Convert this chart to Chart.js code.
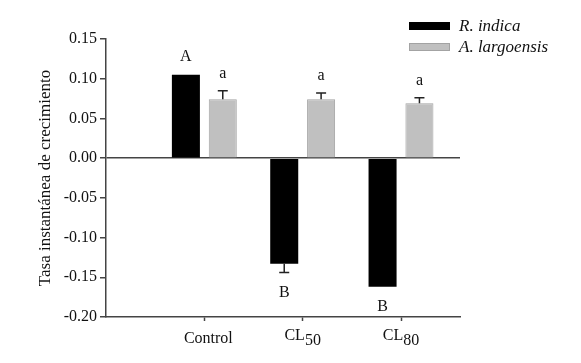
<!DOCTYPE html>
<html>
<head>
<meta charset="utf-8">
<script src="https://cdn.jsdelivr.net/npm/chart.js@4"></script>
<style>
  body { margin: 0; background: #fff; }
</style>
</head>
<body>
<canvas id="myChart" width="581" height="363"></canvas>
<script>
"use strict";

// data
let categories = ["Control", "CL50", "CL80"];
let catPositions = [0, 1, 2];
let rIndica = [0.105, -0.133, -0.162];
let rIndicaErr = [0.001, 0.011, 0.0];
let rIndicaLetters = ["A", "B", "B"];
let aLargoensis = [0.074, 0.074, 0.069];
let aLargoensisErr = [0.011, 0.008, 0.007];
let aLargoensisLetters = ["a", "a", "a"];
let yTicks = [-0.20, -0.15, -0.10, -0.05, 0.00, 0.05, 0.10, 0.15];

let serif = "'Liberation Serif', 'Times New Roman', serif";
let axisColor = "#444";

// error bars + letters over each bar
const extrasPlugin = {
    id: "extras",
    afterDatasetsDraw(chart) {
        let ctx = chart.ctx;
        let y = chart.scales.y;
        let errs = [rIndicaErr, aLargoensisErr];
        let letters = [rIndicaLetters, aLargoensisLetters];
        ctx.save();
        chart.data.datasets.forEach((ds, di) => {
            let meta = chart.getDatasetMeta(di);
            meta.data.forEach((bar, i) => {
                let v = ds.data[i].y;
                let e = errs[di][i];
                let end = v >= 0 ? v + e : v - e;
                let yEnd = y.getPixelForValue(end);
                if (e > 0.002) {
                    ctx.strokeStyle = "#222";
                    ctx.lineWidth = 1.5;
                    ctx.beginPath();
                    ctx.moveTo(bar.x, bar.y);
                    ctx.lineTo(bar.x, yEnd);
                    ctx.moveTo(bar.x - 5, yEnd);
                    ctx.lineTo(bar.x + 5, yEnd);
                    ctx.stroke();
                }
                ctx.fillStyle = "#111";
                ctx.font = "16px " + serif;
                ctx.textAlign = "center";
                if (v >= 0) {
                    ctx.textBaseline = "bottom";
                    ctx.fillText(letters[di][i], bar.x, yEnd - 9);
                } else {
                    ctx.textBaseline = "top";
                    ctx.fillText(letters[di][i], bar.x, yEnd + 12);
                }
            });
        });
        ctx.restore();
    },
    afterDraw(chart) {
        let ctx = chart.ctx;
        let x = chart.scales.x;
        ctx.save();
        // category labels (CL with subscript)
        ctx.fillStyle = "#111";
        ctx.textBaseline = "middle";
        ctx.font = "16px " + serif;
        categories.forEach((name, i) => {
            let px = x.getPixelForValue(catPositions[i]);
            let m = name.match(/^([A-Za-z]+)(\d+)$/);
            if (m) {
                let w1 = ctx.measureText(m[1]).width;
                let w2 = ctx.measureText(m[2]).width;
                let start = px - (w1 + w2) / 2;
                ctx.textAlign = "left";
                ctx.fillText(m[1], start, 336);
                ctx.fillText(m[2], start + w1, 341);
            } else {
                ctx.textAlign = "center";
                ctx.fillText(name, px + 4, 339);
            }
        });
        // legend
        ctx.font = "italic 17px " + serif;
        ctx.textAlign = "left";
        chart.data.datasets.forEach((ds, di) => {
            let yy = 26 + di * 21;
            ctx.fillStyle = ds.backgroundColor;
            ctx.fillRect(409, yy - 4, 41, 8);
            if (di === 1) {
                ctx.strokeStyle = ds.borderColor;
                ctx.lineWidth = 1;
                ctx.strokeRect(409.5, yy - 3.5, 40, 7);
            }
            ctx.fillStyle = "#111";
            ctx.fillText(ds.label, 459, yy + 1);
        });
        ctx.restore();
    }
};

const ctx = document.getElementById("myChart");

new Chart(ctx, {
    type: "bar",
    data: {
        datasets: [{
            label: "R. indica",
            data: rIndica.map((v, i) => ({ x: catPositions[i], y: v })),
            backgroundColor: "#000000",
            borderWidth: 0
        }, {
            label: "A. largoensis",
            data: aLargoensis.map((v, i) => ({ x: catPositions[i], y: v })),
            backgroundColor: "#c0c0c0",
            borderColor: "#a3a3a3",
            borderWidth: 1
        }]
    },
    options: {
        responsive: false,
        animation: false,
        categoryPercentage: 0.75,
        barPercentage: 0.76,
        layout: { padding: { top: 39, right: 121 } },
        plugins: {
            legend: { display: false },
            tooltip: { enabled: false }
        },
        scales: {
            x: {
                type: "linear",
                min: -1,
                max: 2.6,
                offset: false,
                afterBuildTicks: (scale) => {
                    scale.ticks = catPositions.map(v => ({ value: v }));
                },
                afterFit: (scale) => { scale.height = 46; },
                ticks: { display: false },
                grid: {
                    offset: false,
                    drawOnChartArea: false,
                    tickLength: 4,
                    tickColor: axisColor,
                    tickWidth: 1.5
                },
                border: { color: axisColor, width: 1.5 }
            },
            y: {
                min: -0.2,
                max: 0.15,
                afterBuildTicks: (scale) => {
                    scale.ticks = yTicks.map(v => ({ value: v }));
                },
                afterFit: (scale) => { scale.width = 106; },
                ticks: {
                    color: "#111",
                    padding: 3,
                    font: { family: serif, size: 16 },
                    callback: (v) => v.toFixed(2)
                },
                grid: {
                    color: (c) => (c.tick && Math.abs(c.tick.value) < 1e-9 ? axisColor : "rgba(0,0,0,0)"),
                    lineWidth: 1.5,
                    tickLength: 6,
                    tickColor: axisColor,
                    tickWidth: 1.5
                },
                border: { color: axisColor, width: 1.5 },
                title: {
                    display: true,
                    text: "Tasa instantánea de crecimiento",
                    color: "#111",
                    font: { family: serif, size: 17 },
                    padding: { top: 35 }
                }
            }
        }
    },
    plugins: [extrasPlugin]
});
</script>
</body>
</html>
